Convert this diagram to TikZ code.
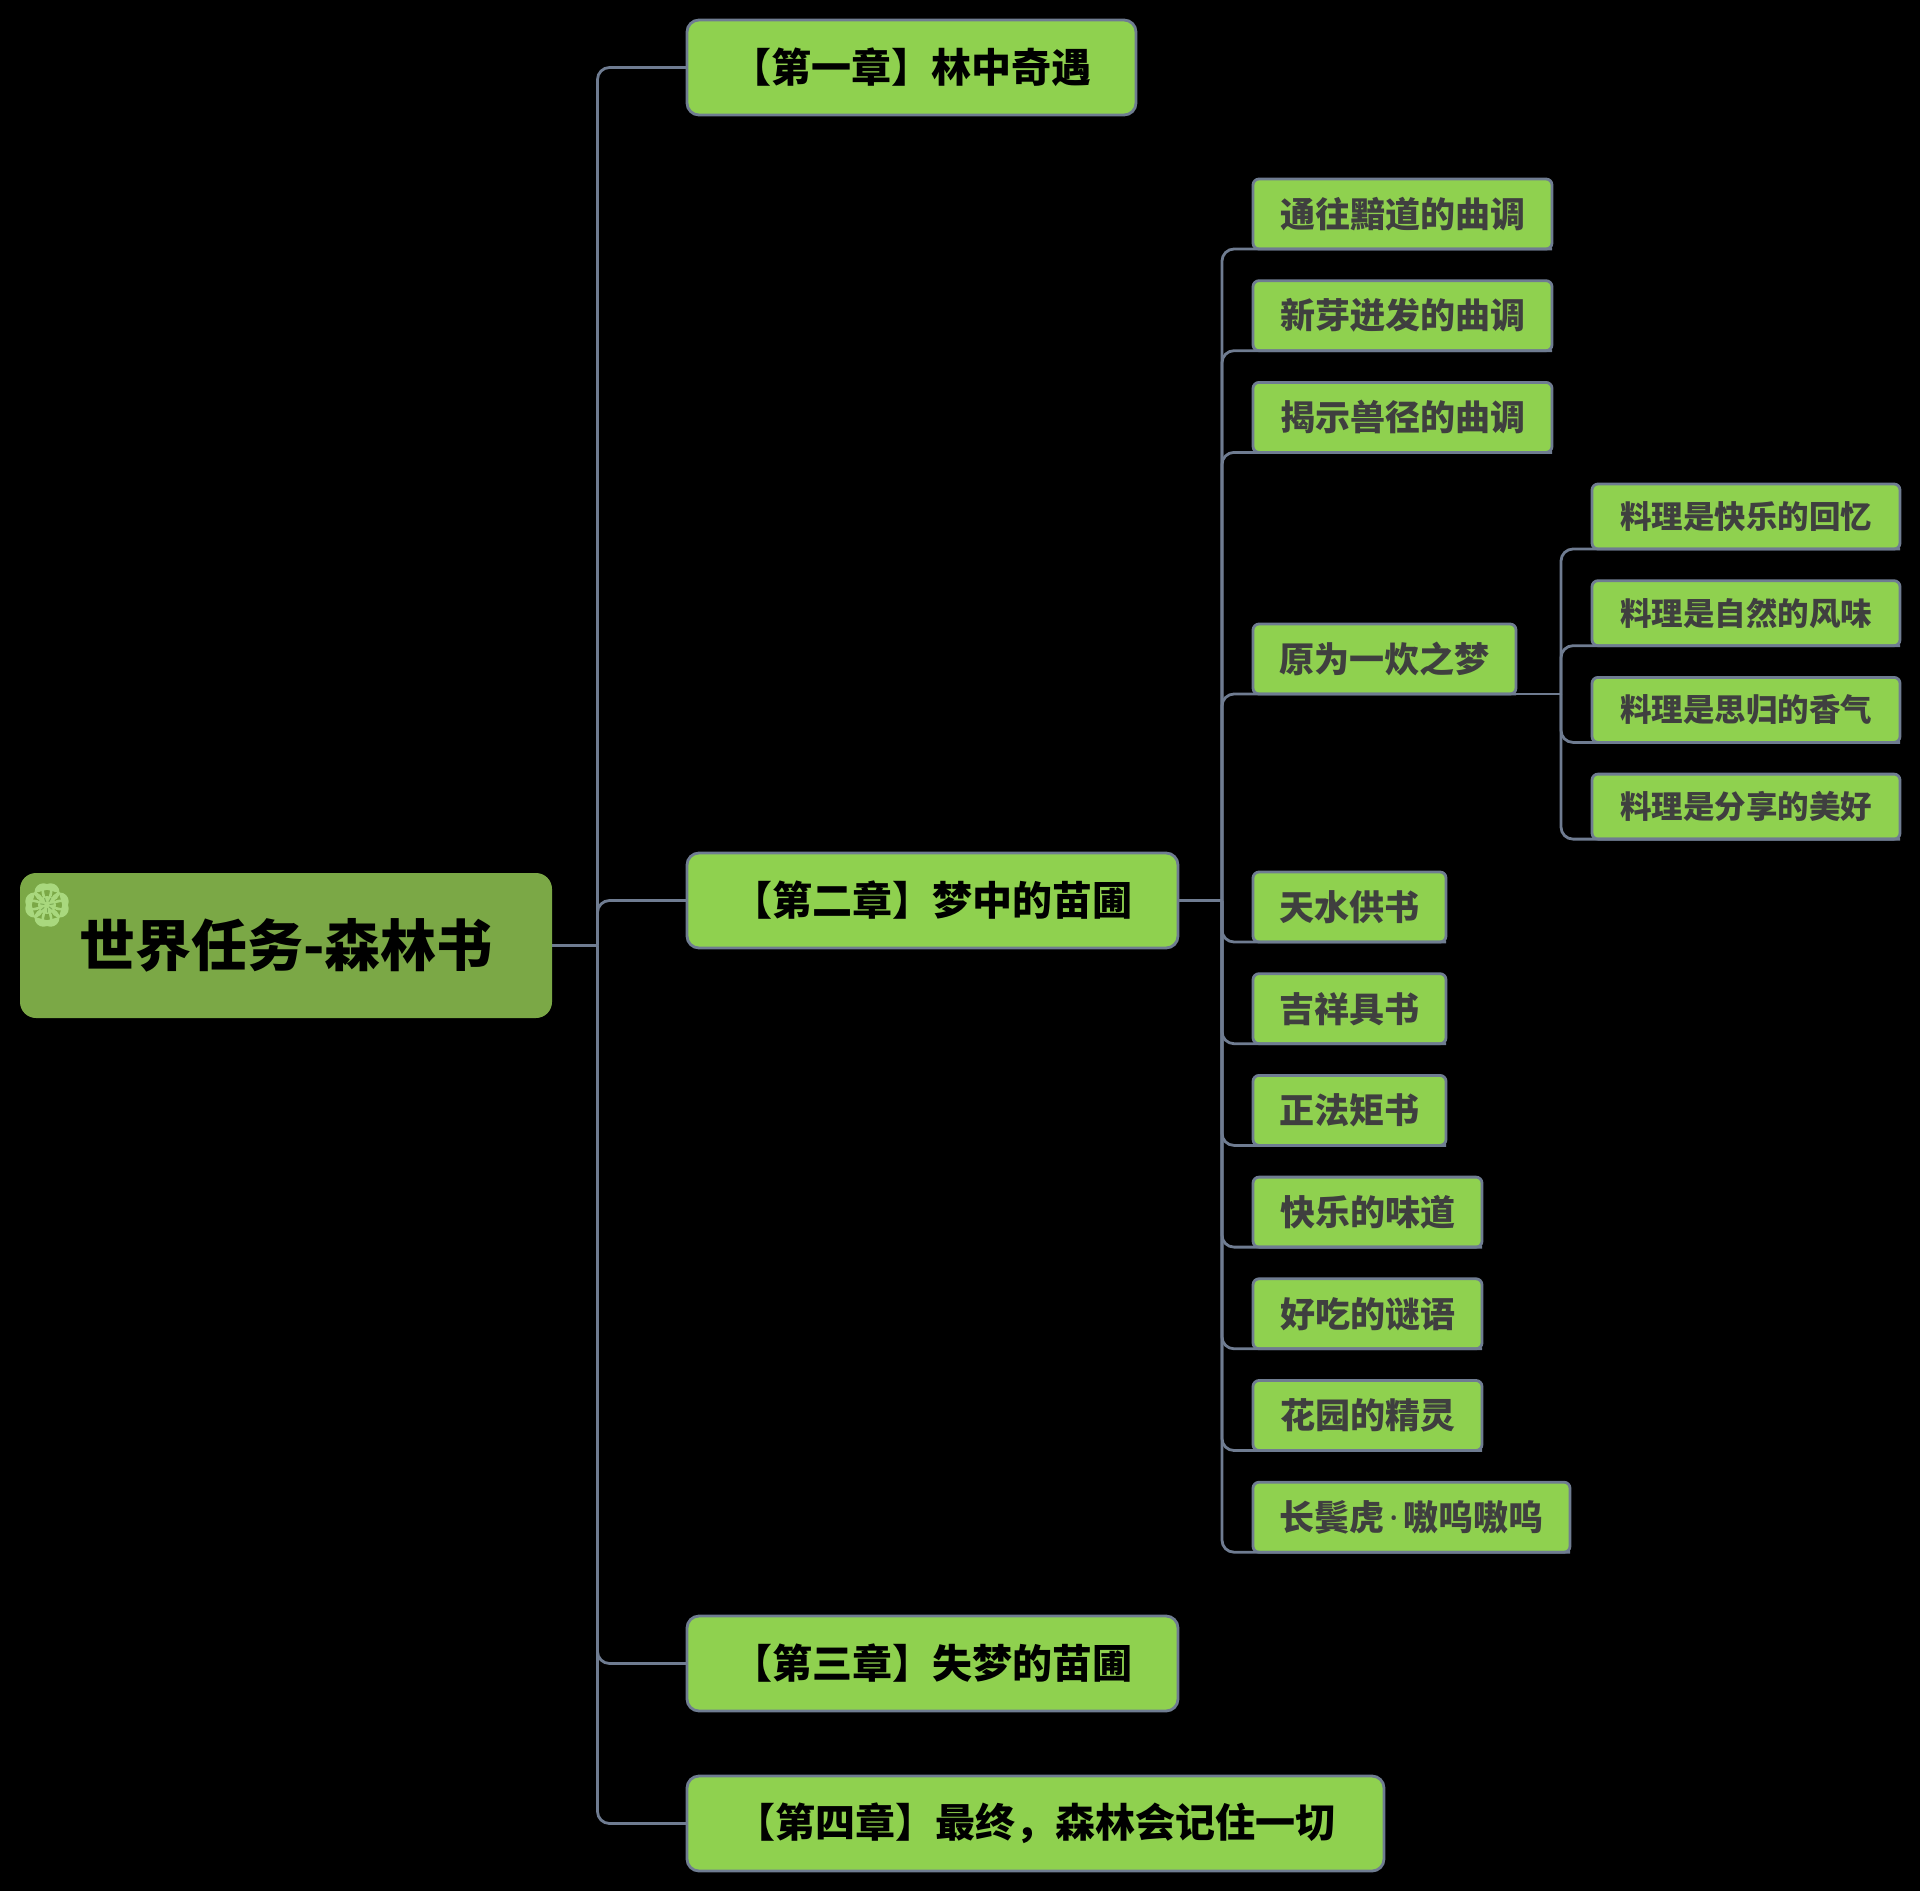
\documentclass[tikz,border=0pt]{standalone}
\usepackage{fontspec}
\newfontfamily\cjk{Noto Sans CJK SC}
\newfontfamily\latinf{Noto Sans}
\definecolor{gr}{HTML}{8FD14F}
\definecolor{rootc}{HTML}{7BA846}
\definecolor{bdc}{HTML}{6F7C91}
\definecolor{lnc}{HTML}{6F7C91}
\definecolor{txg}{HTML}{3F3F3F}
\definecolor{clv}{HTML}{A9D87E}
\definecolor{clvd}{HTML}{7FAE58}
\tikzset{
  conn/.style={draw=lnc, line width=2.8pt, rounded corners=12pt},
  rootbox/.style={fill=rootc, rounded corners=16pt, anchor=north west, inner sep=0pt, outer sep=0pt,
    minimum width=532pt, minimum height=145pt, font=\cjk\bfseries\fontsize{56}{64}\selectfont, text=black},
  chap/.style={draw=bdc, line width=2.8pt, fill=gr, rounded corners=12pt, anchor=north west, outer sep=0pt,
    minimum height=95pt, inner sep=0pt, font=\cjk\bfseries\fontsize{40}{48}\selectfont, text=black},
  kid/.style={draw=bdc, line width=2.8pt, fill=gr, rounded corners=6pt, anchor=north west, outer sep=0pt,
    minimum height=70pt, inner sep=0pt, font=\cjk\bfseries\fontsize{35}{42}\selectfont, text=txg},
  subkid/.style={kid, minimum height=65pt, minimum width=308pt, font=\cjk\bfseries\fontsize{31.5}{38}\selectfont},
}
\begin{document}
\begin{tikzpicture}[x=1pt,y=1pt]
\fill[black] (0,0) rectangle (1920,-1891);
\useasboundingbox (0,0) rectangle (1920,-1891);

% root
\node[rootbox] (root) at (20,-873) {世界任务-森林书};
% clover
\begin{scope}[shift={(47,-905)}]
  \foreach \a in {45,135,225,315} {
    \fill[clv, rotate=\a] (-6.5,11.5) circle (9) (6.5,11.5) circle (9)
      (0,0) -- (-14,9) -- (0,17) -- (14,9) -- cycle;
  }
  \fill[clv] (0,0) circle (9);
  \foreach \a/\r in {10/3, 60/4, 110/3.5, 170/3, 220/4, 270/3.5, 320/3} {
    \draw[clvd, line width=1pt, line cap=round, rotate=\a] (\r,0) -- (\r+3.5,0);
  }
\end{scope}

% chapters
\node[chap, minimum width=449pt] (c1) at (687,-20) {【第一章】林中奇遇};
\node[chap, minimum width=491pt] (c2) at (687,-853) {【第二章】梦中的苗圃};
\node[chap, minimum width=491pt] (c3) at (687,-1616) {【第三章】失梦的苗圃};
\node[chap, minimum width=697pt] (c4) at (687,-1776) {【第四章】最终，森林会记住一切};

% chapter 2 children
\node[kid, minimum width=299pt] (k1) at (1253,-179) {通往黯道的曲调};
\node[kid, minimum width=299pt] (k2) at (1253,-280.7) {新芽迸发的曲调};
\node[kid, minimum width=299pt] (k3) at (1253,-382.4) {揭示兽径的曲调};
\node[kid, minimum width=263pt] (k4) at (1253,-624) {原为一炊之梦};
\node[kid, minimum width=193pt] (k5) at (1253,-872) {天水供书};
\node[kid, minimum width=193pt] (k6) at (1253,-973.7) {吉祥具书};
\node[kid, minimum width=193pt] (k7) at (1253,-1075.4) {正法矩书};
\node[kid, minimum width=229pt] (k8) at (1253,-1177.1) {快乐的味道};
\node[kid, minimum width=229pt] (k9) at (1253,-1278.8) {好吃的谜语};
\node[kid, minimum width=229pt] (k10) at (1253,-1380.5) {花园的精灵};
\node[kid, minimum width=317pt] (k11) at (1253,-1482.2) {长鬓虎{\latinf\bfseries\hspace{0.14em}·\hspace{0.14em}}嗷呜嗷呜};

% sub children
\node[subkid] (s1) at (1592,-484) {料理是快乐的回忆};
\node[subkid] (s2) at (1592,-580.7) {料理是自然的风味};
\node[subkid] (s3) at (1592,-677.4) {料理是思归的香气};
\node[subkid] (s4) at (1592,-774.1) {料理是分享的美好};

% connectors: root -> chapters
\path (root.east) ++(45.5,0) coordinate (t1);
\draw[conn] (root.east) -- (t1);
\foreach \c in {c1,c2,c3,c4} {
  \draw[conn] (t1) -- (t1 |- \c.west) -- (\c.west);
}

% chapter 2 -> children
\path (c2.east) ++(44,0) coordinate (t2);
\draw[conn] (c2.east) -- (t2);
\foreach \k in {k1,k2,k3,k4,k5,k6,k7,k8,k9,k10,k11} {
  \draw[conn] (t2) -- (t2 |- \k.south) -- (\k.south west) -- (\k.south east);
}

% k4 -> sub children
\path (k4.south east) ++(45,0) coordinate (t3);
\draw[conn] (k4.south east) -- (t3);
\foreach \s in {s1,s2,s3,s4} {
  \draw[conn] (t3) -- (t3 |- \s.south) -- (\s.south west) -- (\s.south east);
}
\end{tikzpicture}
\end{document}
